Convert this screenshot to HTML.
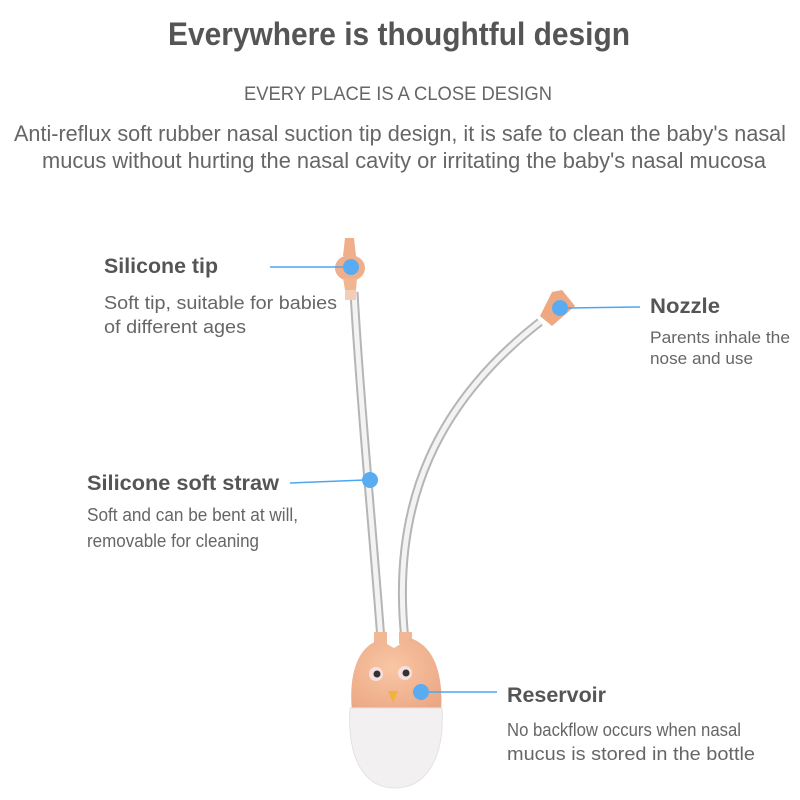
<!DOCTYPE html>
<html><head><meta charset="utf-8"><style>
html,body{margin:0;padding:0;background:#fff;width:800px;height:800px;overflow:hidden}
text{font-family:"Liberation Sans Narrow","Liberation Sans",sans-serif;fill:#666}
.b{font-weight:bold;fill:#555}
</style></head><body>
<svg width="800" height="800" viewBox="0 0 800 800">
<defs>
<radialGradient id="owl" cx="0.45" cy="0.4" r="0.7"><stop offset="0" stop-color="#f9c6a4"/><stop offset="1" stop-color="#eba784"/></radialGradient>
</defs>
<g lengthAdjust="spacingAndGlyphs">
<text x="168" y="45" class="b" font-size="32" textLength="462" lengthAdjust="spacingAndGlyphs">Everywhere is thoughtful design</text>
<text x="244" y="100" font-size="19" textLength="308" lengthAdjust="spacingAndGlyphs">EVERY PLACE IS A CLOSE DESIGN</text>
<text x="14" y="141" font-size="22" textLength="772" lengthAdjust="spacingAndGlyphs">Anti-reflux soft rubber nasal suction tip design, it is safe to clean the baby's nasal</text>
<text x="42" y="168" font-size="22" textLength="724" lengthAdjust="spacingAndGlyphs">mucus without hurting the nasal cavity or irritating the baby's nasal mucosa</text>
</g>

<!-- tubes -->
<path d="M354 292 C 360 400, 372 520, 381 640" stroke="#b5b5b5" stroke-width="9" fill="none"/>
<path d="M354 292 C 360 400, 372 520, 381 640" stroke="#f3f3f3" stroke-width="5" fill="none"/>
<path d="M540 322 C 440 400, 390 500, 405 640" stroke="#b5b5b5" stroke-width="9" fill="none"/>
<path d="M540 322 C 440 400, 390 500, 405 640" stroke="#f3f3f3" stroke-width="5" fill="none"/>
<!-- tip -->
<path d="M345 238 L354 238 L356 256 L343 256 Z" fill="#f0ae8a"/>
<ellipse cx="350" cy="268" rx="15" ry="13" fill="#f0ae8a"/>
<path d="M343 278 L357 278 L356 290 L345 290 Z" fill="#f0b591"/>
<rect x="345" y="290" width="11" height="10" fill="#f4cdb8"/>
<!-- nozzle -->
<path d="M552 292 L562 290 L575 306 L552 326 L540 316 Z" fill="#eea882"/>
<!-- owl -->
<rect x="374" y="632" width="13" height="12" fill="#f2b896"/>
<rect x="399" y="632" width="13" height="12" fill="#f2b896"/>
<path d="M352 712 C 348 670, 360 645, 380 640 L394 648 L410 638 C 432 645, 444 670, 441 712 Z" fill="url(#owl)"/>
<path d="M350 708 L442 708 C 445 760, 425 788, 395 788 C 365 788, 347 760, 350 708 Z" fill="#f2f0f1" stroke="#e6e1e2"/>
<circle cx="376" cy="674" r="7" fill="#f7e0e0"/><circle cx="377" cy="674" r="3.5" fill="#333"/>
<circle cx="405" cy="673" r="7" fill="#f7e0e0"/><circle cx="406" cy="673" r="3.5" fill="#333"/>
<path d="M388 691 L398 691 L393 703 Z" fill="#f3b33a"/>

<!-- connectors -->
<g stroke="#4da6f0" stroke-width="1.5">
<line x1="270" y1="267" x2="345" y2="267"/>
<line x1="568" y1="308" x2="640" y2="307"/>
<line x1="290" y1="483" x2="365" y2="480"/>
<line x1="425" y1="692" x2="497" y2="692"/>
</g>
<g fill="#5aacf2">
<circle cx="351" cy="267" r="8"/>
<circle cx="560" cy="308" r="8"/>
<circle cx="370" cy="480" r="8"/>
<circle cx="421" cy="692" r="8"/>
</g>

<text x="104" y="273" class="b" font-size="21" textLength="114" lengthAdjust="spacingAndGlyphs">Silicone tip</text>
<text x="104" y="309" font-size="18" textLength="233" lengthAdjust="spacingAndGlyphs">Soft tip, suitable for babies</text>
<text x="104" y="333" font-size="18" textLength="142" lengthAdjust="spacingAndGlyphs">of different ages</text>

<text x="650" y="313" class="b" font-size="21" textLength="70" lengthAdjust="spacingAndGlyphs">Nozzle</text>
<text x="650" y="343" font-size="17" textLength="140" lengthAdjust="spacingAndGlyphs">Parents inhale the</text>
<text x="650" y="364" font-size="17" textLength="103" lengthAdjust="spacingAndGlyphs">nose and use</text>

<text x="87" y="490" class="b" font-size="21" textLength="192" lengthAdjust="spacingAndGlyphs">Silicone soft straw</text>
<text x="87" y="521" font-size="18" textLength="211" lengthAdjust="spacingAndGlyphs">Soft and can be bent at will,</text>
<text x="87" y="547" font-size="18" textLength="172" lengthAdjust="spacingAndGlyphs">removable for cleaning</text>

<text x="507" y="702" class="b" font-size="21" textLength="99" lengthAdjust="spacingAndGlyphs">Reservoir</text>
<text x="507" y="736" font-size="18" textLength="234" lengthAdjust="spacingAndGlyphs">No backflow occurs when nasal</text>
<text x="507" y="760" font-size="18" textLength="248" lengthAdjust="spacingAndGlyphs">mucus is stored in the bottle</text>
</svg>
</body></html>
